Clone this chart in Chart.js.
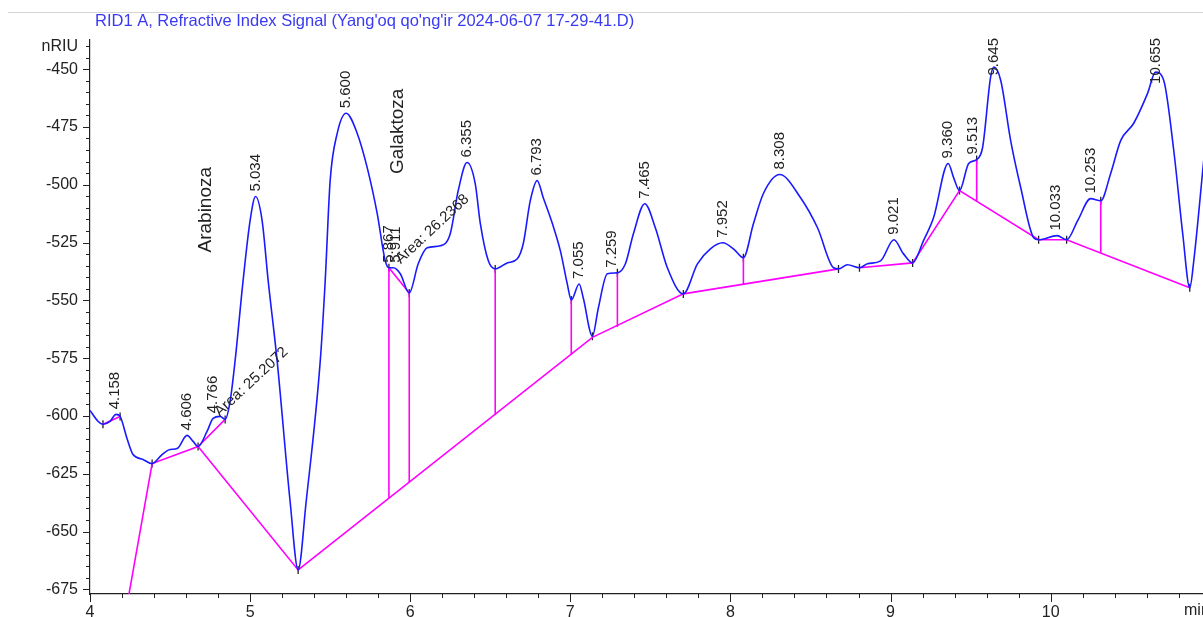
<!DOCTYPE html>
<html>
<head>
<meta charset="utf-8">
<script src="https://cdn.jsdelivr.net/npm/chart.js@4/dist/chart.umd.min.js"></script>
<style>
  body { margin: 0; background: #fff; overflow: hidden; }
</style>
</head>
<body>
<canvas id="signalChart" width="1209" height="617"></canvas>
<script>
// Signal trace (min, nRIU)
var signalTime = [4.0, 4.05, 4.081, 4.125, 4.163, 4.188, 4.231, 4.269, 4.331, 4.388, 4.45, 4.5, 4.544, 4.606, 4.644, 4.675, 4.731, 4.769, 4.813, 4.844, 4.875, 4.906, 4.956, 5.0, 5.034, 5.075, 5.113, 5.169, 5.25, 5.3, 5.35, 5.438, 5.469, 5.5, 5.544, 5.6, 5.669, 5.731, 5.794, 5.844, 5.867, 5.894, 5.938, 5.994, 6.05, 6.106, 6.188, 6.25, 6.3, 6.355, 6.406, 6.438, 6.488, 6.531, 6.606, 6.669, 6.706, 6.75, 6.793, 6.831, 6.888, 6.938, 6.981, 7.006, 7.055, 7.081, 7.138, 7.175, 7.231, 7.294, 7.344, 7.394, 7.465, 7.531, 7.606, 7.706, 7.794, 7.875, 7.952, 8.019, 8.081, 8.144, 8.206, 8.308, 8.438, 8.544, 8.644, 8.675, 8.731, 8.806, 8.856, 8.938, 9.021, 9.081, 9.138, 9.206, 9.269, 9.36, 9.394, 9.431, 9.488, 9.538, 9.575, 9.625, 9.645, 9.688, 9.75, 9.813, 9.894, 9.925, 10.04, 10.1, 10.169, 10.25, 10.313, 10.375, 10.438, 10.519, 10.606, 10.655, 10.706, 10.769, 10.825, 10.869, 10.894, 10.956];

var signalValue = [-597.6, -602.3, -603.6, -602.3, -599.3, -600.2, -609.7, -616.7, -618.8, -620.6, -616.7, -614.5, -614.1, -608.4, -611.0, -613.2, -606.7, -601.0, -600.2, -601.5, -593.7, -576.3, -541.6, -515.5, -505.1, -515.5, -541.6, -576.3, -637.1, -666.6, -637.1, -576.3, -541.6, -498.2, -477.8, -469.1, -477.8, -492.5, -512.5, -532.9, -535.9, -535.9, -538.5, -546.8, -534.2, -527.3, -526.4, -521.2, -502.5, -490.4, -499.5, -516.8, -532.9, -536.4, -533.8, -532.0, -525.5, -506.9, -498.2, -505.6, -516.8, -528.6, -542.9, -549.8, -542.9, -549.0, -565.5, -553.3, -538.5, -538.1, -534.2, -521.2, -508.2, -518.6, -535.9, -547.2, -534.2, -527.7, -525.1, -527.7, -531.6, -516.8, -503.8, -495.6, -505.6, -518.6, -535.9, -536.4, -534.6, -535.9, -534.2, -532.9, -523.8, -529.9, -533.8, -524.2, -514.2, -490.8, -496.9, -502.5, -490.8, -489.1, -483.9, -453.5, -449.1, -454.8, -480.8, -501.2, -522.9, -523.8, -522.0, -523.8, -515.5, -506.0, -506.9, -495.1, -480.8, -473.4, -460.4, -451.3, -454.8, -485.2, -521.2, -544.6, -532.9, -489.5];

// Peak labels
var peakTime = [4.158, 4.606, 4.766, 5.034, 5.600, 5.867, 5.911, 6.355, 6.793, 7.055, 7.259, 7.465, 7.952, 8.308, 9.021, 9.360, 9.513, 9.645, 10.033, 10.253, 10.655];
var peakHeight = [-599.3, -608.4, -601.0, -505.1, -469.1, -535.9, -535.9, -490.4, -498.2, -542.9, -538.1, -508.2, -525.1, -495.6, -523.8, -490.8, -489.1, -449.1, -522.0, -506.0, -451.3];

// Integration baselines
var baseSegments = [
  [[4.081, -603.6], [4.188, -600.2]],
  [[4.2125, -689.1], [4.388, -620.6], [4.675, -613.2], [4.844, -601.5]],
  [[4.675, -613.2], [5.3, -666.6], [7.138, -566.0], [7.706, -547.2], [8.675, -536.4]],
  [[5.867, -535.9], [5.994, -546.8]],
  [[8.806, -535.9], [9.138, -533.8], [9.431, -502.5], [9.925, -523.8], [10.1, -523.8], [10.869, -544.6]]
];

// Drop lines
var dropTime = [5.867, 5.994, 6.531, 7.006, 7.294, 8.081, 9.538, 10.313];
var dropTop = [-535.9, -546.8, -536.4, -549.8, -538.1, -531.6, -489.1, -506.9];
var dropBottom = [-635.6, -628.6, -599.5, -573.5, -561.5, -543.3, -507.1, -529.4];

// Peak start/stop marks
var markTime = [4.081, 4.188, 4.388, 4.675, 4.844, 5.3, 5.867, 5.994, 6.531, 7.006, 7.138, 7.294, 7.706, 8.081, 8.675, 8.806, 9.138, 9.431, 9.538, 9.925, 10.1, 10.313, 10.869];
var markValue = [-603.6, -600.2, -620.6, -613.2, -601.5, -666.6, -535.9, -546.8, -536.4, -549.8, -565.5, -538.1, -547.2, -531.6, -536.4, -535.9, -533.8, -502.5, -489.1, -523.8, -523.8, -506.9, -544.6];

// Compound names and area notes
var compoundName = ['Arabinoza', 'Galaktoza'];
var compoundTime = [4.72, 5.92];
var compoundHeight = [-510.8, -476.9];

var areaText = ['Area: 25.2072', 'Area: 26.2368'];
var areaTime = [4.825, 5.955];
var areaHeight = [-601.5, -535.5];

var FONT = '"Liberation Sans", Arial, sans-serif';

Chart.defaults.font.family = FONT;
Chart.defaults.font.size = 16;
Chart.defaults.color = '#222';

var datasets = [];

datasets.push({
  data: signalTime.map(function (t, i) { return { x: t, y: signalValue[i] }; }),
  borderColor: '#1a1aff',
  borderWidth: 1.6,
  pointRadius: 0,
  cubicInterpolationMode: 'monotone',
  fill: false
});

baseSegments.forEach(function (seg) {
  datasets.push({
    data: seg.map(function (p) { return { x: p[0], y: p[1] }; }),
    borderColor: '#ff00ff',
    borderWidth: 1.6,
    pointRadius: 0,
    tension: 0,
    fill: false
  });
});

dropTime.forEach(function (t, i) {
  datasets.push({
    data: [{ x: t, y: dropTop[i] }, { x: t, y: dropBottom[i] }],
    borderColor: '#ff00ff',
    borderWidth: 1.6,
    pointRadius: 0,
    fill: false
  });
});

datasets.push({
  data: markTime.map(function (t, i) { return { x: t, y: markValue[i] }; }),
  showLine: false,
  pointStyle: 'line',
  rotation: 90,
  pointRadius: 4,
  borderColor: '#222',
  borderWidth: 1.3
});

// Text, ticks and header
var annotationPlugin = {
  id: 'annotations',

  afterDraw: function (chart) {
    var ctx = chart.ctx;
    var xs = chart.scales.x;
    var ys = chart.scales.y;
    var area = chart.chartArea;

    ctx.save();

    // header
    ctx.strokeStyle = '#d4d4d4';
    ctx.lineWidth = 1;
    ctx.beginPath();
    ctx.moveTo(8, 12.5);
    ctx.lineTo(1209, 12.5);
    ctx.stroke();

    ctx.fillStyle = '#3a3af2';
    ctx.font = '16.5px ' + FONT;
    ctx.textAlign = 'left';
    ctx.textBaseline = 'middle';
    ctx.fillText("RID1 A, Refractive Index Signal (Yang'oq qo'ng'ir 2024-06-07 17-29-41.D)", 95, 21);

    // unit labels
    ctx.font = '16px ' + FONT;
    ctx.fillStyle = '#222';
    ctx.textAlign = 'right';
    ctx.fillText('nRIU', 78, 47);
    ctx.textAlign = 'left';
    ctx.textBaseline = 'top';
    ctx.fillText('min', 1184, area.bottom + 9);

    // tick marks
    ctx.strokeStyle = '#222';
    ctx.lineWidth = 1;
    ctx.beginPath();
    for (var v = -675; v <= -440; v += 5) {
      var py = Math.round(ys.getPixelForValue(v)) + 0.5;
      var len = (v % 25 === 0) ? 7 : 4;
      ctx.moveTo(area.left - len, py);
      ctx.lineTo(area.left, py);
    }
    for (var k = 0; k <= 34; k++) {
      var t = 4 + k * 0.2;
      var px = Math.round(xs.getPixelForValue(t)) + 0.5;
      var tl = (k % 5 === 0) ? 8 : 4;
      ctx.moveTo(px, area.bottom);
      ctx.lineTo(px, area.bottom + tl);
    }
    ctx.stroke();

    // peak retention times
    ctx.font = '15px ' + FONT;
    ctx.fillStyle = '#222';
    ctx.textAlign = 'left';
    ctx.textBaseline = 'middle';
    peakTime.forEach(function (t, i) {
      var label = t.toFixed(3);
      var w = ctx.measureText(label).width;
      var px = xs.getPixelForValue(t);
      var bottom = ys.getPixelForValue(peakHeight[i]) - 5;
      if (bottom - w < area.top - 2) {
        bottom = area.top - 2 + w;
      }
      ctx.save();
      ctx.translate(px, bottom);
      ctx.rotate(-Math.PI / 2);
      ctx.fillText(label, 0, 0);
      ctx.restore();
    });

    // compound names
    ctx.font = '19px ' + FONT;
    ctx.textAlign = 'center';
    compoundName.forEach(function (name, i) {
      ctx.save();
      ctx.translate(xs.getPixelForValue(compoundTime[i]), ys.getPixelForValue(compoundHeight[i]));
      ctx.rotate(-Math.PI / 2);
      ctx.fillText(name, 0, 0);
      ctx.restore();
    });

    // area notes
    ctx.font = '15px ' + FONT;
    ctx.textAlign = 'left';
    ctx.textBaseline = 'bottom';
    areaText.forEach(function (txt, i) {
      ctx.save();
      ctx.translate(xs.getPixelForValue(areaTime[i]), ys.getPixelForValue(areaHeight[i]));
      ctx.rotate(-43 * Math.PI / 180);
      ctx.fillText(txt, 0, 0);
      ctx.restore();
    });

    ctx.restore();
  }
};

new Chart(document.getElementById('signalChart'), {

  type: 'line',

  data: { datasets: datasets },

  options: {
    responsive: false,

    animation: false,

    events: [],

    layout: { padding: { top: 40, left: 0, right: 0, bottom: 0 } },

    plugins: {
      legend: { display: false },
      tooltip: { enabled: false }
    },

    scales: {
      x: {
        type: 'linear',
        min: 4,
        max: 10.956,
        afterFit: function (scale) { scale.height = 23; },
        border: { display: true, color: '#222', width: 1.2 },
        grid: { display: false, drawTicks: false },
        ticks: { stepSize: 1, includeBounds: false, padding: 9, maxRotation: 0, color: '#222' }
      },
      y: {
        min: -677,
        max: -437.4,
        afterFit: function (scale) { scale.width = 90; },
        border: { display: true, color: '#222', width: 1.2 },
        grid: { display: false, drawTicks: false },
        ticks: { stepSize: 25, includeBounds: false, padding: 12, color: '#222' }
      }
    }
  },

  plugins: [annotationPlugin]
});
</script>
</body>
</html>
